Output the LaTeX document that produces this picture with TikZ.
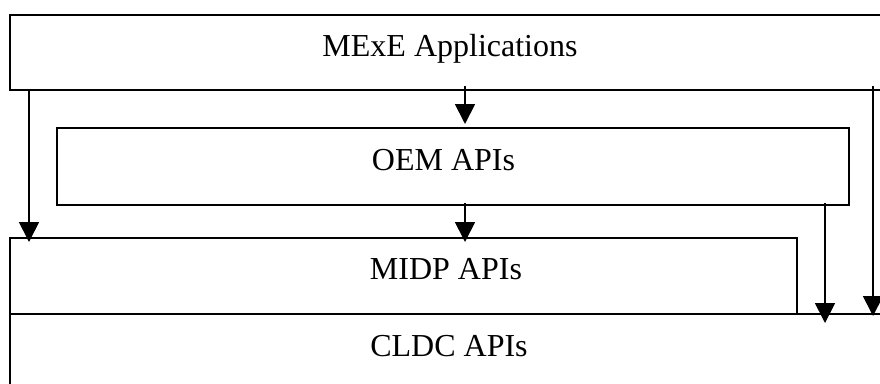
\documentclass[tikz,border=0pt]{standalone}
\usepackage{fontspec}
\setmainfont{Liberation Serif}
\usetikzlibrary{arrows.meta}
\begin{document}
\begin{tikzpicture}[x=1pt,y=-1pt,
  box/.style={draw, line width=1.6pt, inner sep=0pt, outer sep=0pt, anchor=north west},
  lbl/.style={anchor=base, inner sep=0pt, font=\fontsize{32}{38}\selectfont},
  arr/.style={line width=1.8pt, -{Triangle[length=20pt,width=20pt]}}]
\path[use as bounding box] (0,0) rectangle (880,383);
\clip (0,0) rectangle (880,383);
\node[box, minimum width=880pt, minimum height=75pt] (mexe) at (10,15) {};
\node[box, minimum width=792pt, minimum height=77pt] (oem) at (57,128) {};
\node[box, minimum width=890pt, minimum height=100pt] (cldc) at (10,314) {};
\node[box, minimum width=787pt, minimum height=76pt] (midp) at (10,238) {};
\node[lbl] (mexet) at (450,56) {MExE Applications};
\node[lbl] (oemt) at (443.5,170) {OEM APIs};
\node[lbl] (midpt) at (446,279) {MIDP APIs};
\node[lbl] (cldct) at (449,356) {CLDC APIs};
\coordinate (xa) at (29,0);
\coordinate (xb) at (465,0);
\coordinate (xc) at (825,0);
\coordinate (xd) at (873,0);
\draw[arr, shorten <=-1pt, shorten >=-4pt] (mexe.south -| xa) -- (midp.north -| xa);
\draw[arr, shorten <=-4pt, shorten >=4pt] (mexe.south -| xb) -- (oem.north -| xb);
\draw[arr, shorten <=-2pt, shorten >=-4pt] (oem.south -| xb) -- (midp.north -| xb);
\draw[arr, shorten <=-2pt, shorten >=-9pt] (oem.south -| xc) -- (cldc.north -| xc);
\draw[arr, shorten <=-4pt, shorten >=-2pt] (mexe.south -| xd) -- (cldc.north -| xd);
\end{tikzpicture}
\end{document}
